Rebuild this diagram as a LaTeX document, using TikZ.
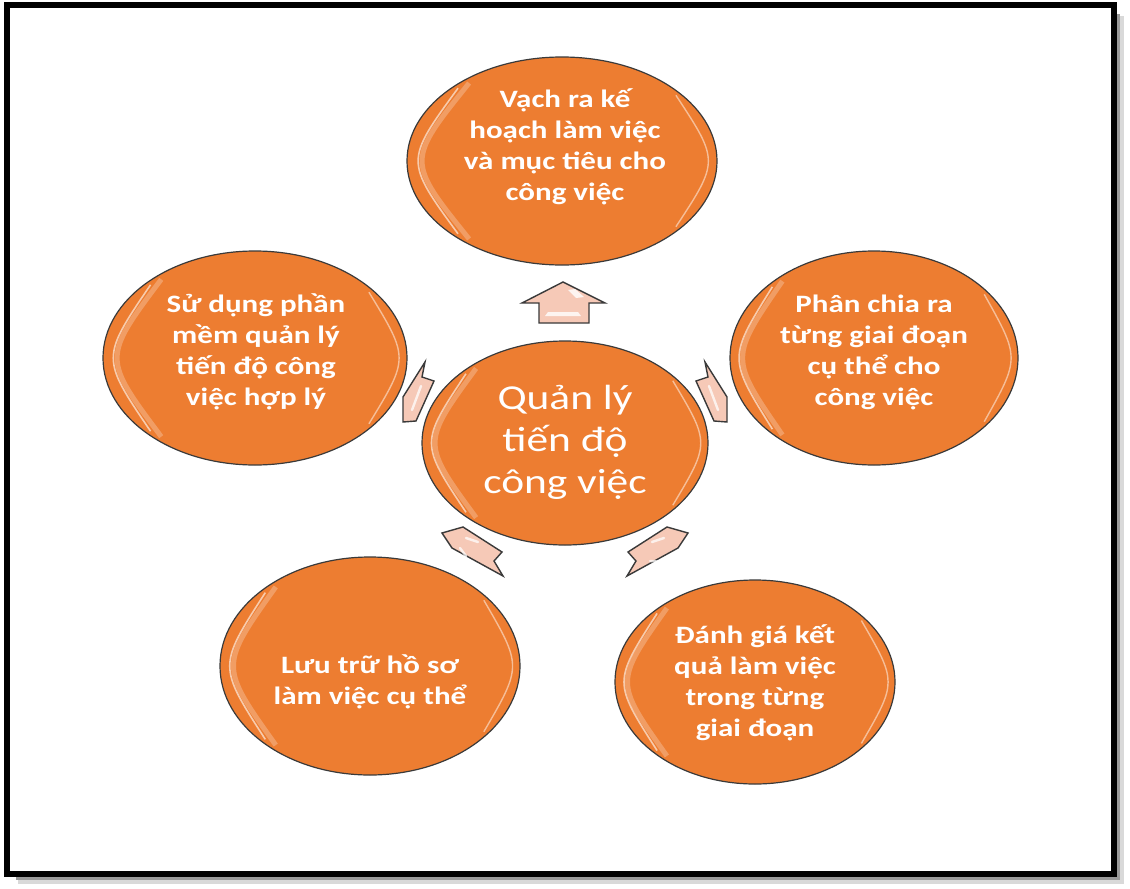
\documentclass[tikz,border=0pt]{standalone}
\usepackage{fontspec}
\setmainfont{Carlito}[FakeStretch=1.24]
\usetikzlibrary{shapes.geometric,calc}
\definecolor{orangefill}{HTML}{ED7D31}
\definecolor{arrowfill}{HTML}{F6C9B7}
\definecolor{rimline}{HTML}{3A3A3A}
\tikzset{
  bubble/.style={ellipse, draw=rimline, line width=1.2pt, fill=orangefill, inner sep=0pt},
  bubtext/.style={text=white, font=\fontsize{25}{31}\selectfont\bfseries, align=center, inner sep=0pt},
  hubtext/.style={text=white, font=\fontsize{35}{42}\selectfont, align=center, inner sep=0pt},
  arrowshape/.style={fill=arrowfill, draw=rimline, line width=1.4pt, line join=miter},
  gloss/.style={white, opacity=0.75, line width=2.4pt, line cap=round}
}
\begin{document}
\begin{tikzpicture}[x=1pt,y=-1pt]
\useasboundingbox (0,0) rectangle (1130,889);
\fill[white] (0,0) rectangle (1130,889);
% frame with shadow
\draw[black!15, line width=8pt] (1120,16) -- (1120,880) -- (18,880);
\draw[black!40, line width=4pt] (1118,14) -- (1118,878) -- (16,878);
\draw[black, line width=6pt] (7,5) rectangle (1114,874);

% bubbles
\node[bubble, minimum width=310pt, minimum height=208pt] (top) at (562,161) {};
\node[bubble, minimum width=304pt, minimum height=214pt] (lu) at (255,358) {};
\node[bubble, minimum width=288pt, minimum height=214pt] (ru) at (874,358) {};
\node[bubble, minimum width=286pt, minimum height=204pt] (hub) at (565,443) {};
\node[bubble, minimum width=300pt, minimum height=218pt] (bl) at (370,666) {};
\node[bubble, minimum width=280pt, minimum height=204pt] (br) at (755,682) {};

% soft glossy highlights just inside the rims
\foreach \n in {top,lu,ru,hub,bl,br}{
  \draw[white, opacity=0.25, line width=5pt]
    ($(\n.center)!0.955!(\n.140)$) .. controls ($(\n.center)!1.0!(\n.180)$) .. ($(\n.center)!0.955!(\n.220)$);
  \draw[white, opacity=0.6, line width=1.6pt]
    ($(\n.center)!0.965!(\n.145)$) .. controls ($(\n.center)!1.01!(\n.180)$) .. ($(\n.center)!0.965!(\n.215)$);
  \draw[white, opacity=0.5, line width=1.4pt]
    ($(\n.center)!0.965!(\n.-30)$) .. controls ($(\n.center)!1.01!(\n.0)$) .. ($(\n.center)!0.965!(\n.30)$);
}

% texts
\node[bubtext] (ttop) at (565,147) {Vạch ra kế\\hoạch làm việc\\và mục tiêu cho\\công việc};
\node[bubtext] (tlu) at (256,352) {Sử dụng phần\\mềm quản lý\\tiến độ công\\việc hợp lý};
\node[bubtext] (tru) at (874,352) {Phân chia ra\\từng giai đoạn\\cụ thể cho\\công việc};
\node[bubtext] (tbl) at (370,682) {Lưu trữ hồ sơ\\làm việc cụ thể};
\node[bubtext] (tbr) at (755,683) {Đánh giá kết\\quả làm việc\\trong từng\\giai đoạn};
\node[hubtext] (thub) at (565,442) {Quản lý\\tiến độ\\công việc};

% block arrows
% up
\draw[arrowshape] (563,282) -- (605,303) -- (589,303) -- (589,323) -- (539,323) -- (539,303) -- (522,303) -- cycle;
\fill[white, opacity=0.8] (568,290) -- (575,289) -- (584,297) -- (576,298) -- cycle;
\fill[white, opacity=0.8] (548,312) -- (578,312) -- (581,316) -- (545,316) -- cycle;
% left (skewed)
\draw[arrowshape] (425,362) -- (422,377) -- (434,381) -- (416,421) -- (403,422) -- (403,397) -- cycle;
\draw[gloss] (421,386) -- (412,410);
% right (mirror)
\draw[arrowshape] (705,362) -- (708,377) -- (696,381) -- (714,421) -- (727,422) -- (727,397) -- cycle;
\draw[gloss] (709,386) -- (718,410);
% lower left
\draw[arrowshape] (503,576) -- (494,561) -- (502,552) -- (463,527) -- (442,533) -- (452,548) -- cycle;
\draw[gloss] (466,538) -- (478,542);
\draw[gloss] (460,548) -- (466,556);
% lower right (mirror)
\draw[arrowshape] (627,576) -- (636,561) -- (628,552) -- (667,527) -- (688,533) -- (678,548) -- cycle;
\draw[gloss] (664,538) -- (652,542);
\draw[gloss] (650,561) -- (664,562);
\end{tikzpicture}
\end{document}
